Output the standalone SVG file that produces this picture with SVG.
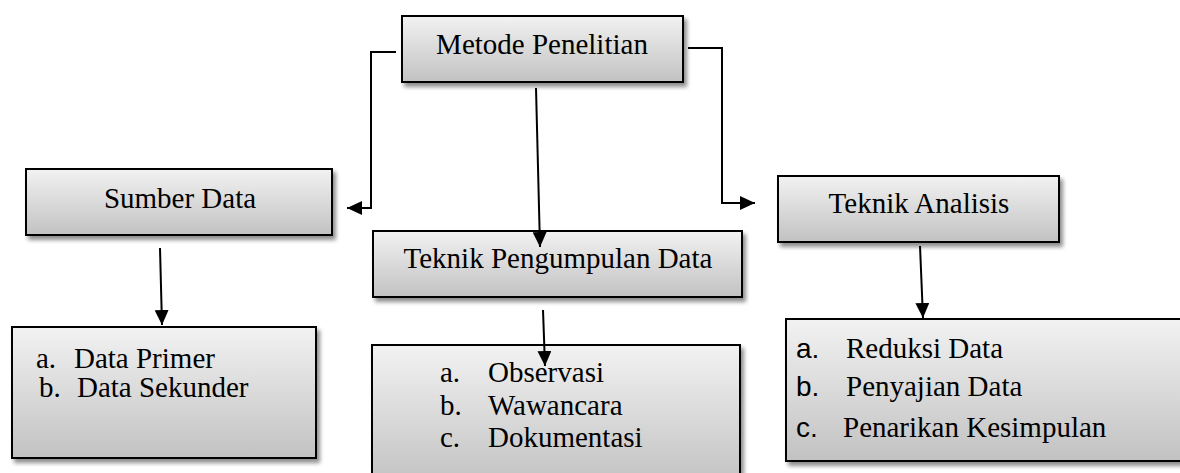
<svg xmlns="http://www.w3.org/2000/svg" width="1180" height="473" viewBox="0 0 1180 473">
<defs>
<linearGradient id="g" x1="0" y1="0" x2="0" y2="1">
<stop offset="0" stop-color="#f2f2f2"/>
<stop offset="1" stop-color="#c2c2c2"/>
</linearGradient>
<filter id="sh" x="-10%" y="-10%" width="130%" height="140%">
<feGaussianBlur in="SourceAlpha" stdDeviation="2"/>
<feOffset dx="3" dy="4" result="b"/>
<feComponentTransfer><feFuncA type="linear" slope="0.45"/></feComponentTransfer>
<feMerge><feMergeNode/><feMergeNode in="SourceGraphic"/></feMerge>
</filter>
<marker id="ah" markerWidth="15" markerHeight="14" refX="15" refY="7" orient="auto" markerUnits="userSpaceOnUse">
<path d="M0,0 L15,7 L0,14 Z" fill="#000"/>
</marker>
</defs>
<style>
.box{fill:url(#g);stroke:#000;stroke-width:2;filter:url(#sh)}
.t{font-family:"Liberation Serif","Times New Roman",serif;font-size:29px;fill:#000}
.s{font-family:"Liberation Sans",Arial,sans-serif;font-size:28px;fill:#000}
.c{fill:none;stroke:#000;stroke-width:2}
</style>
<rect width="1180" height="473" fill="#fff"/>
<g id="metode">
<rect class="box" x="402" y="16" width="281" height="66"/>
<text class="t" x="542" y="54" text-anchor="middle">Metode Penelitian</text>
</g>
<g id="sumber">
<rect class="box" x="26" y="169" width="306" height="66"/>
<text class="t" x="180" y="208" text-anchor="middle">Sumber Data</text>
</g>
<g id="pengumpulan">
<rect class="box" x="373" y="231" width="369" height="66"/>
<text class="t" x="558" y="268" text-anchor="middle">Teknik Pengumpulan Data</text>
</g>
<g id="analisis">
<rect class="box" x="778" y="176" width="281" height="66"/>
<text class="t" x="919" y="213" text-anchor="middle">Teknik Analisis</text>
</g>
<g id="sumber-list">
<rect class="box" x="12" y="327" width="304" height="131"/>
<text class="t" x="36" y="368">a.</text>
<text class="t" x="74" y="368">Data Primer</text>
<text class="t" x="39" y="397">b.</text>
<text class="t" x="77" y="397">Data Sekunder</text>
</g>
<g id="pengumpulan-list">
<rect class="box" x="372" y="345" width="368" height="140"/>
<text class="t" x="440" y="382">a.</text>
<text class="t" x="488" y="382">Observasi</text>
<text class="t" x="440" y="415">b.</text>
<text class="t" x="488" y="415">Wawancara</text>
<text class="t" x="440" y="447">c.</text>
<text class="t" x="488" y="447">Dokumentasi</text>
</g>
<g id="analisis-list">
<rect class="box" x="786" y="319" width="400" height="142"/>
<text class="s" x="796" y="358">a.</text>
<text class="t" x="846" y="358">Reduksi Data</text>
<text class="s" x="796" y="396">b.</text>
<text class="t" x="846" y="396">Penyajian Data</text>
<text class="s" x="796" y="437">c.</text>
<text class="t" x="843" y="437">Penarikan Kesimpulan</text>
</g>
<g id="connectors">
<polyline class="c" points="396,52 371,52 371,208 347,208" marker-end="url(#ah)"/>
<polyline class="c" points="688,48 722,48 722,203 755,203" marker-end="url(#ah)"/>
<line class="c" x1="536" y1="88" x2="540" y2="247" marker-end="url(#ah)"/>
<line class="c" x1="160" y1="248" x2="162" y2="325" marker-end="url(#ah)"/>
<line class="c" x1="543" y1="310" x2="545" y2="366" marker-end="url(#ah)"/>
<line class="c" x1="920" y1="246" x2="923" y2="318" marker-end="url(#ah)"/>
</g>
</svg>
